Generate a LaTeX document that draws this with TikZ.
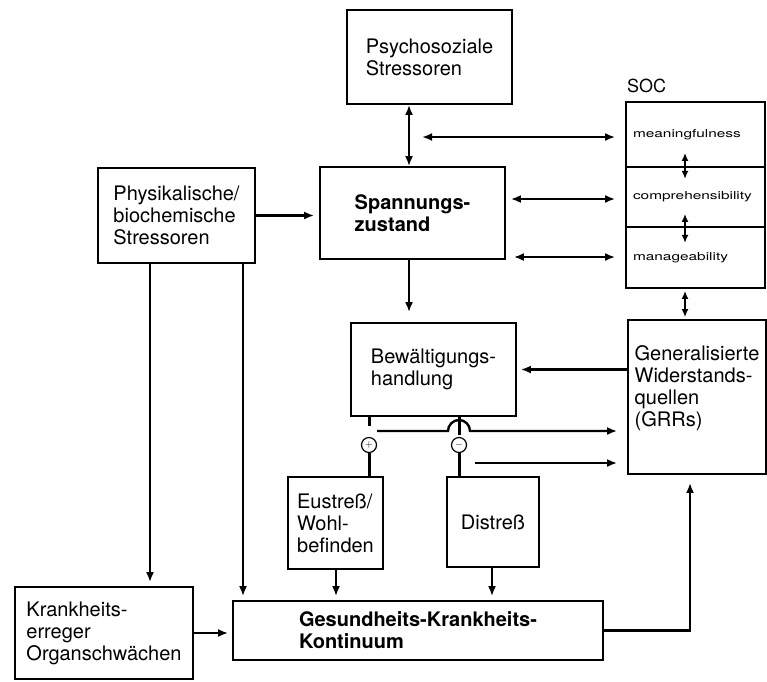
\documentclass[tikz,border=0pt]{standalone}
\usepackage{fontspec}
\setmainfont{TeX Gyre Heros}
\newfontfamily\socfont[FakeStretch=1.4]{TeX Gyre Heros}
\usetikzlibrary{arrows.meta,calc}
\begin{document}
\begin{tikzpicture}[x=1pt,y=-1pt,
  box/.style={draw,line width=1.8pt,rectangle,align=left,inner sep=0pt,
    font=\fontsize{20}{22}\selectfont},
  boldbox/.style={box,font=\fontsize{20}{22}\selectfont\bfseries},
  socpart/.style={draw,line width=1.8pt,rectangle,minimum width=139pt,
    inner xsep=7pt,inner ysep=0pt,text width=125pt,align=left,
    font=\socfont\fontsize{11}{13}\selectfont},
  sign/.style={circle,draw,line width=1.2pt,minimum size=15pt,inner sep=0pt,
    font=\fontsize{10}{10}\selectfont},
  arr/.style={line width=2.8pt,-{Latex[length=10pt,width=8pt]}},
  dbl/.style={line width=2.8pt,{Latex[length=10pt,width=8pt]}-{Latex[length=10pt,width=8pt]}},
  sdbl/.style={line width=2.6pt,{Latex[length=8pt,width=7pt]}-{Latex[length=8pt,width=7pt]}},
  stub/.style={line width=3pt}
]
\fill[white] (0,0) rectangle (767,681);
\useasboundingbox (0,0) rectangle (767,681);

% boxes
\node[box,minimum width=165pt,minimum height=94pt] (psy) at (429.5,57) {Psychosoziale\\Stressoren};
\node[box,minimum width=157pt,minimum height=95pt] (phys) at (176.5,215.5) {Physikalische/\\biochemische\\Stressoren};
\node[boldbox,minimum width=185pt,minimum height=92pt] (span) at (412.5,213) {Spannungs-\\zustand};
\node[box,minimum width=165pt,minimum height=93pt] (bew) at (433.5,369.5) {Bewältigungs-\\handlung};
\node[box,minimum width=138pt,minimum height=154pt] (grr) at (697,397) {Generalisierte\\Widerstands-\\quellen\\(GRRs)\\\mbox{}};
\node[box,minimum width=95pt,minimum height=92pt] (eu) at (335.5,523) {Eustreß/\\Wohl-\\befinden};
\node[box,minimum width=92pt,minimum height=90pt] (dis) at (493,522) {Distreß};
\node[box,minimum width=178pt,minimum height=92pt] (kr) at (104,633) {Krankheits-\\erreger\\Organschwächen};
\node[boldbox,minimum width=370pt,minimum height=59pt] (ges) at (418,630.5) {Gesundheits-Krankheits-\\Kontinuum};

% SOC with its three components
\node[anchor=base west,inner sep=0pt,font=\fontsize{18}{18}\selectfont] (soclabel) at (627,92) {SOC};
\node[socpart,minimum height=65pt] (soc1) at (695.5,134.5) {meaningfulness};
\node[socpart,minimum height=60pt] (soc2) at (695.5,197) {comprehensibility};
\node[socpart,minimum height=61pt] (soc3) at (695.5,257.5) {manageability};

% signs below the coping box
\node[sign] (plus) at (369,445) {$+$};
\node[sign] (minus) at (459,445) {$-$};

% vertical axes of the connectors
\coordinate (ax) at (409,0);
\coordinate (sx) at (685,0);
\coordinate (px) at (369,0);
\coordinate (mx) at (459,0);
\coordinate (v1) at (150,0);
\coordinate (v2) at (243,0);
\coordinate (ex) at (336,0);
\coordinate (dx) at (492,0);
\coordinate (gx) at (690,0);

% stressors and tension
\draw[dbl] (psy.south -| ax) -- (span.north -| ax);
\draw[arr,shorten >=5pt] (phys.east) -- (phys.east -| span.west);
\draw[arr,shorten >=10pt] (span.south -| ax) -- (bew.north -| ax);

% links to the SOC components
\coordinate (t1) at (422,137);
\draw[dbl,shorten >=10pt] (t1) -- (t1 -| soc1.west);
\draw[dbl,shorten <=5pt,shorten >=10pt] ($(span.east)+(0,-14)$) -- ($(span.east -| soc2.west)+(0,-14)$);
\draw[dbl,shorten <=8pt,shorten >=10pt] ($(span.east)+(0,44)$) -- ($(span.east -| soc3.west)+(0,44)$);
\draw[sdbl] ($(soc1.south -| sx)+(0,-15)$) -- ($(soc1.south -| sx)+(0,11)$);
\draw[sdbl] ($(soc2.south -| sx)+(0,-14)$) -- ($(soc2.south -| sx)+(0,15)$);
\draw[sdbl,shorten <=2pt,shorten >=2pt] (soc3.south -| sx) -- (grr.north -| sx);

% resources feed the coping
\draw[arr,shorten >=4pt] (grr.west |- bew.east) -- (bew.east);

% outcomes of coping
\draw[stub] (bew.south -| px) -- ++(0,9);
\draw[stub] (plus.south) -- (eu.north -| px);
\draw[stub] (bew.south -| mx) -- ++(0,18);
\draw[stub] (minus.south) -- (dis.north -| mx);
\coordinate (h0) at (377,431);
\draw[arr,line width=2.4pt,shorten >=10pt] (h0) -- ($(h0 -| mx)+(-11,0)$) arc[start angle=180,end angle=0,radius=11pt] -- (h0 -| grr.west);
\coordinate (m0) at (475,463);
\draw[arr,line width=2.4pt,shorten >=10pt] (m0) -- (m0 -| grr.west);

% paths to the health continuum
\draw[arr,shorten >=4pt] (phys.south -| v1) -- (kr.north -| v1);
\draw[arr,shorten >=4pt] (phys.south -| v2) -- (ges.north -| v2);
\draw[arr,shorten >=4pt] (eu.south -| ex) -- (ges.north -| ex);
\draw[arr,shorten >=4pt] (dis.south -| dx) -- (ges.north -| dx);
\draw[arr,shorten >=4pt] (kr.east) -- (kr.east -| ges.west);
\draw[arr,shorten >=8pt] (ges.east) -| (grr.south -| gx);
\end{tikzpicture}
\end{document}
